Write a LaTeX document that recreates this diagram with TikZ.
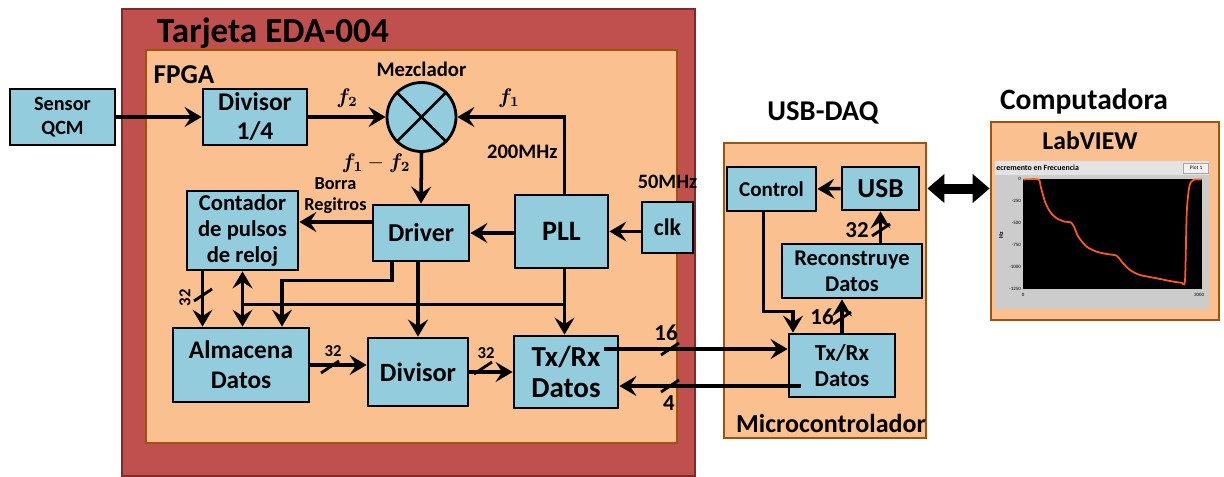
\documentclass[tikz,border=0pt]{standalone}
\usepackage{amsmath, amssymb}
\usepackage{fontspec}
\setmainfont{Carlito}
\usetikzlibrary{arrows.meta, positioning, calc}

\definecolor{tarjred}{HTML}{C0504D}
\definecolor{tarjedge}{HTML}{7A2E2C}
\definecolor{fpgaorange}{HTML}{FAC090}
\definecolor{fpgaedge}{HTML}{A0520F}
\definecolor{blockblue}{HTML}{93CDDD}
\definecolor{plotorange}{HTML}{FF5A1E}

\tikzset{
    bigtip/.tip={Stealth[length=3.4mm, width=4mm, inset=1.3mm]},
    wire/.style={line width=2pt},
    arr/.style={wire, -bigtip},
    dblarr/.style={wire, bigtip-bigtip},
    block/.style={rectangle, draw, line width=1.6pt, fill=blockblue, align=center, inner sep=1pt},
    frame/.style={rectangle, draw=fpgaedge, line width=1.6pt, fill=fpgaorange},
    lbl/.style={inner sep=1pt, font=\bfseries\fontsize{10}{12}\selectfont},
    buslbl/.style={inner sep=0pt, font=\bfseries\fontsize{9.5}{10}\selectfont}
}

\begin{document}
\begin{tikzpicture}[x=0.2mm, y=-0.2mm]
    \useasboundingbox (0,0) rectangle (1224,477);

    % Tarjeta and FPGA frames
    \node[rectangle, draw=tarjedge, line width=1.6pt, fill=tarjred,
          minimum width=114.6mm, minimum height=93.4mm] (tarjeta) at (408.5,242.5) {};
    \node[font=\bfseries\fontsize{20}{22}\selectfont] (tarjetalbl) at (273,33) {Tarjeta EDA-004};
    \node[frame, minimum width=106.2mm, minimum height=78.6mm] (fpga) at (411.5,246.5) {};
    \node[font=\bfseries\fontsize{15.5}{17}\selectfont] (fpgalbl) at (184,75) {FPGA};

    % Sensor and front end
    \node[block, minimum width=21mm, minimum height=11.2mm,
          font=\bfseries\fontsize{11.5}{13.5}\selectfont] (sensor) at (62.5,117) {Sensor\\QCM};
    \node[block, minimum width=20.8mm, minimum height=11.2mm,
          font=\bfseries\fontsize{14.5}{16.5}\selectfont] (div14) at (255,117) {Divisor\\1/4};
    \node[circle, draw, line width=1.6pt, fill=blockblue, minimum size=13.8mm, inner sep=0pt] (mix) at (421.5,117) {};
    \draw[line width=1.6pt] (mix.north west) -- (mix.south east);
    \draw[line width=1.6pt] (mix.north east) -- (mix.south west);
    \node[lbl, font=\bfseries\fontsize{11.8}{13}\selectfont, above=0.4mm of mix] (mixlbl) {Mezclador};

    % Clock blocks
    \node[block, minimum width=18.6mm, minimum height=14.6mm,
          font=\bfseries\fontsize{16}{18}\selectfont] (pll) at (561.5,231.5) {PLL};
    \node[block, minimum width=10.2mm, minimum height=10.2mm,
          font=\bfseries\fontsize{13.5}{16}\selectfont] (clk) at (667.5,227.5) {clk};
    \node[lbl, font=\bfseries\fontsize{11.6}{13}\selectfont, above=2mm of clk] (clklbl) {50MHz};

    % Control and data path
    \node[block, minimum width=19.2mm, minimum height=11.2mm,
          font=\bfseries\fontsize{14.7}{16}\selectfont] (driver) at (421,233) {Driver};
    \node[block, minimum width=22.2mm, minimum height=15.8mm,
          font=\bfseries\fontsize{12.9}{15}\selectfont] (cont) at (242.5,230.5) {Contador\\de pulsos\\de reloj};
    \node[block, minimum width=27.2mm, minimum height=14.8mm,
          font=\bfseries\fontsize{14.4}{17}\selectfont] (alm) at (241,365) {Almacena\\Datos};
    \node[block, minimum width=20mm, minimum height=13.6mm,
          font=\bfseries\fontsize{15}{16}\selectfont] (div) at (418,372) {Divisor};
    \node[block, minimum width=20.8mm, minimum height=14.4mm,
          font=\bfseries\fontsize{16.5}{18}\selectfont] (txrx) at (566,372) {Tx/Rx\\Datos};

    % USB-DAQ
    \node[frame, minimum width=40.4mm, minimum height=59mm] (daq) at (825,290.5) {};
    \node[font=\bfseries\fontsize{16.3}{18}\selectfont] (daqlbl) at (823,113) {USB-DAQ};
    \node[font=\bfseries\fontsize{14.8}{16}\selectfont] (micrlbl) at (831,423) {Microcontrolador};
    \node[block, minimum width=17.8mm, minimum height=8.8mm,
          font=\bfseries\fontsize{12}{14}\selectfont] (ctrl) at (771.5,189) {Control};
    \node[block, minimum width=15.4mm, minimum height=8.6mm,
          font=\bfseries\fontsize{15.6}{17}\selectfont] (usb) at (880.5,188.5) {USB};
    \node[block, minimum width=28mm, minimum height=10.8mm,
          font=\bfseries\fontsize{12.8}{15}\selectfont] (recon) at (852,271) {Reconstruye\\Datos};
    \node[block, minimum width=21.2mm, minimum height=12.6mm,
          font=\bfseries\fontsize{13}{15}\selectfont] (mtx) at (842,365.5) {Tx/Rx\\Datos};

    % Computadora
    \node[font=\bfseries\fontsize{16.8}{18}\selectfont] (pclbl) at (1084,101) {Computadora};
    \node[frame, minimum width=45.6mm, minimum height=39.6mm] (pc) at (1105,221) {};
    \node[font=\bfseries\fontsize{14.6}{16}\selectfont] (labview) at (1090,141) {LabVIEW};

    % LabVIEW screenshot
    \fill[gray!40] (995,161) rectangle (1209,309);
    \fill[gray!22] (995,161) rectangle (1209,175);
    \node[anchor=west, inner sep=0pt, font=\bfseries\fontsize{4.5}{5}\selectfont] (plottitle) at (996,168) {ecremento en Frecuencia};
    \node[draw=gray!70, fill=gray!10, inner sep=0.5pt, minimum width=5mm, minimum height=2mm,
          font=\fontsize{3}{3}\selectfont] (plotbtn) at (1196,168) {Plot 1};
    \fill[black] (1023,179) rectangle (1202,289);
    \foreach \val [count=\i from 0] in {0,-250,-500,-750,-1000,-1250} {
        \node[anchor=east, inner sep=0.5pt, font=\fontsize{2.8}{3}\selectfont] (ytick\i) at (1022,179+\i*22) {\val};
    }
    \node[inner sep=0pt, font=\fontsize{2.8}{3}\selectfont] (xtick0) at (1023,295) {0};
    \node[inner sep=0pt, font=\fontsize{2.8}{3}\selectfont] (xtick1) at (1199,295) {3000};
    \node[rotate=90, inner sep=0pt, font=\bfseries\fontsize{3.5}{4}\selectfont] (hzlbl) at (1001,235) {Hz};
    \draw[plotorange, line width=1pt, line join=round] plot[smooth, tension=0.45] coordinates {
        (1023.3,179.5) (1038.3,179.5) (1040.7,186.7) (1045,201.7) (1050,211.7) (1056.7,218.3)
        (1065,221.7) (1070.7,222.3) (1074,226.7) (1078.3,236.7) (1086.7,246.7) (1096.7,251.7)
        (1106.7,254) (1116.7,255.7) (1121.7,261.7) (1130,270) (1140,275) (1156.7,278.3)
        (1170,281) (1181.7,282.7) (1185,280) (1186.7,213.3) (1189.3,186.7) (1193.3,180) (1201.7,179.5)};

    % Front end connections
    \draw[arr] (sensor.east) -- (div14.west);
    \draw[arr] (div14.east) -- (mix.west) node[midway, above=1pt] (f2lbl) {\fontsize{12}{14}\selectfont$\boldsymbol{f_2}$};
    \coordinate (pllup) at ($(pll.north)+(3,0)$);
    \draw[arr] (pllup) |- (mix.east)
        node[pos=0.27, left=2pt, lbl, font=\bfseries\fontsize{11.7}{13}\selectfont] (pllf) {200MHz}
        node[pos=0.76, above=1pt] (f1lbl) {\fontsize{12}{14}\selectfont$\boldsymbol{f_1}$};
    \draw[arr] (mix.south) -- (driver.north)
        node[pos=0.2, left=2pt] (f12lbl) {\fontsize{12}{14}\selectfont$\boldsymbol{f_1}-\boldsymbol{f_2}$};
    \draw[arr] (clk.west |- pll) -- (pll.east);
    \draw[arr] (pll.west |- driver) -- (driver.east);

    % Driver outputs
    \coordinate (borra) at ($(driver.west)+(0,-11)$);
    \draw[arr] (borra) -- (borra -| cont.east)
        node[midway, above=3pt, lbl, align=center, font=\bfseries\fontsize{10.4}{11.5}\selectfont] (borralbl) {Borra\\Regitros};
    \draw[arr] ($(driver.south)+(-29,0)$) -- ++(0,18) -| ($(alm.north)+(41,0)$);
    \draw[arr] (div.north |- driver.south) -- (div.north);

    % Clock distribution from PLL
    \coordinate (plldown) at ($(pll.south)+(3,0)$);
    \coordinate (clkbus) at ($(pll.south)+(3,35)$);
    \draw[arr] (plldown) -- (plldown |- txrx.north);
    \draw[wire] (clkbus) -- (clkbus -| cont.south);
    \draw[dblarr] (cont.south) -- (cont.south |- alm.north);

    % Data buses in the FPGA
    \coordinate (cntbus) at ($(cont.south)+(-40,0)$);
    \draw[arr] (cntbus) -- (cntbus |- alm.north);
    \node[buslbl, rotate=90] (b32a) at (185,298) {32};
    \draw[arr] (alm.east) -- (alm.east -| div.west);
    \node[buslbl] (b32b) at (333,351) {32};
    \draw[arr] (div.east) -- (div.east -| txrx.west);
    \node[buslbl] (b32c) at (486,353) {32};

    % Links between FPGA and microcontroller
    \coordinate (txout) at ($(txrx.east)+(-15,-23)$);
    \draw[arr] (txout) -- (txout -| mtx.west);
    \node[buslbl, font=\bfseries\fontsize{13}{14}\selectfont] (b16a) at (666,333) {16};
    \coordinate (rxout) at ($(mtx.west)+(13,20.5)$);
    \draw[arr] (rxout) -- (rxout -| txrx.east);
    \node[buslbl, font=\bfseries\fontsize{13}{14}\selectfont] (b4) at (669,403) {4};

    % Microcontroller connections
    \draw[arr] (usb.west) -- (ctrl.east);
    \draw[arr] ($(ctrl.south)+(-8,0)$) -- ++(0,99) -| ($(mtx.north)+(-49,0)$);
    \draw[arr] (mtx.north) -- (mtx.north |- recon.south);
    \node[buslbl, font=\bfseries\fontsize{13}{14}\selectfont] (b16b) at (822,317) {16};
    \draw[arr] (usb.south |- recon.north) -- (usb.south);
    \node[buslbl, font=\bfseries\fontsize{13}{14}\selectfont] (b32d) at (857,230) {32};

    % Bus width marks
    \foreach \sx/\sy in {203/295, 330/367, 483/368, 670/349, 670/386, 881/230, 842/318} {
        \draw[line width=1.6pt] (\sx-9,\sy+6) -- (\sx+9,\sy-6);
    }

    % USB link to the computer
    \draw[line width=2mm, {Triangle[length=3.4mm, width=5.6mm]}-{Triangle[length=3.4mm, width=5.6mm]}]
        (daq.east |- usb) -- (pc.west |- usb);
\end{tikzpicture}
\end{document}
